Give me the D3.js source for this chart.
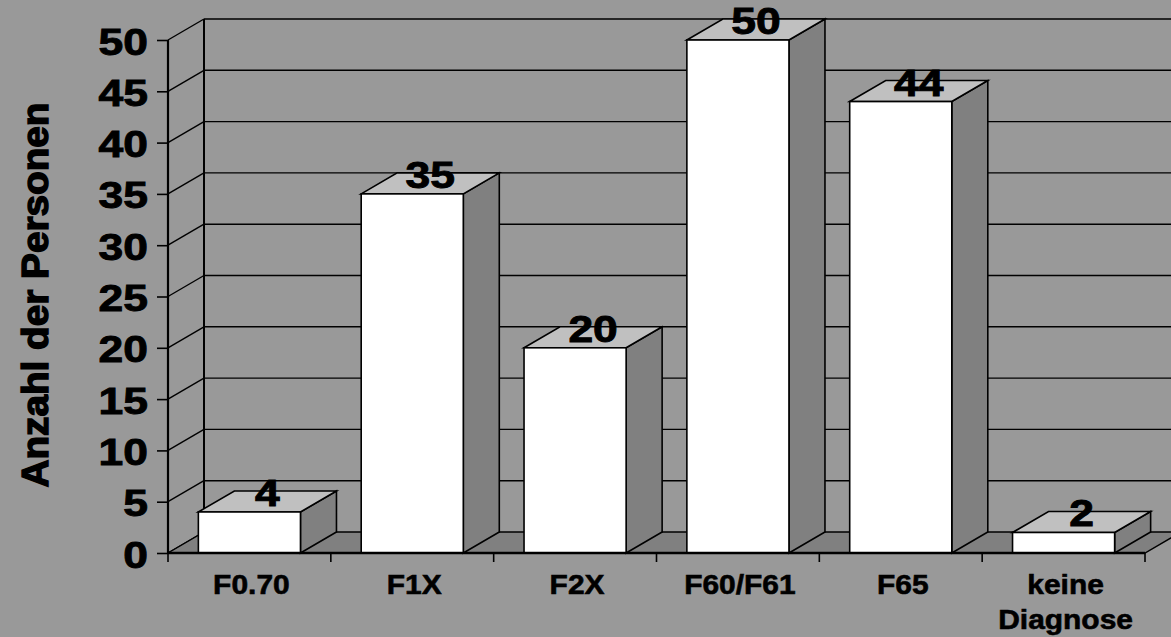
<!DOCTYPE html>
<html>
<head>
<meta charset="utf-8">
<script src="https://cdn.jsdelivr.net/npm/d3@7/dist/d3.min.js"></script>
<style>
  html, body { margin: 0; padding: 0; background: #999999; }
  svg { display: block; }
  text { font-family: "Liberation Sans", Arial, sans-serif; font-weight: bold; fill: #000; stroke: #000; stroke-width: 0.9px; }
</style>
</head>
<body>
<svg id="chart" width="1171" height="637"></svg>
<script>
// Diagnosis groups and number of persons per group
const categories = ["F0.70", "F1X", "F2X", "F60/F61", "F65", "keine Diagnose"];
const values = [4, 35, 20, 50, 44, 2];
const yTicks = [0, 5, 10, 15, 20, 25, 30, 35, 40, 45, 50];
const yTitle = "Anzahl der Personen";

const W = 1171, H = 637;
const svg = d3.select("#chart");

// oblique depth offset of the 3D box
const DX = 36, DY = -21;

const x = d3.scaleBand()
  .domain(categories)
  .range([168, 1145])
  .paddingInner(0.373)
  .paddingOuter(0.1865);

const y = d3.scaleLinear().domain([0, 50]).range([553, 40]);

const x0 = x.range()[0], x1 = x.range()[1];
const y0 = y(0), yTop = y(50);

// background
svg.append("rect").attr("width", W).attr("height", H).attr("fill", "#999999");

// back wall grid lines and left wall diagonals
const grid = svg.append("g").attr("stroke", "#000").attr("stroke-width", 1.4).attr("fill", "none");
grid.selectAll("line.back")
  .data(yTicks.filter(d => d > 0))
  .join("line")
  .attr("class", "back")
  .attr("x1", x0 + DX).attr("x2", x1 + DX)
  .attr("y1", d => y(d) + DY).attr("y2", d => y(d) + DY);
grid.selectAll("line.side")
  .data(yTicks)
  .join("line")
  .attr("class", "side")
  .attr("x1", x0).attr("x2", x0 + DX)
  .attr("y1", d => y(d)).attr("y2", d => y(d) + DY);
// wall corner
grid.append("line")
  .attr("x1", x0 + DX).attr("x2", x0 + DX)
  .attr("y1", yTop + DY).attr("y2", y0 + DY)
  .attr("stroke-width", 2);

// floor
svg.append("path")
  .attr("d", `M${x0},${y0}L${x1},${y0}L${x1 + DX},${y0 + DY}L${x0 + DX},${y0 + DY}Z`)
  .attr("fill", "#808080")
  .attr("stroke", "#000")
  .attr("stroke-width", 1.4);

// bars as oblique boxes
const bars = svg.append("g").attr("stroke", "#000").attr("stroke-width", 1.6).attr("stroke-linejoin", "miter");
categories.forEach((c, i) => {
  const bx = x(c), bw = x.bandwidth();
  const by = y(values[i]);
  const g = bars.append("g");
  // side face
  g.append("path")
    .attr("d", `M${bx + bw},${y0}L${bx + bw + DX},${y0 + DY}L${bx + bw + DX},${by + DY}L${bx + bw},${by}Z`)
    .attr("fill", "#808080");
  // top face
  g.append("path")
    .attr("d", `M${bx},${by}L${bx + DX},${by + DY}L${bx + bw + DX},${by + DY}L${bx + bw},${by}Z`)
    .attr("fill", "#c0c0c0");
  // front face
  g.append("rect")
    .attr("x", bx).attr("y", by)
    .attr("width", bw).attr("height", y0 - by)
    .attr("fill", "#ffffff");
});

// value labels above each bar
svg.append("g").selectAll("text")
  .data(categories)
  .join("text")
  .attr("text-anchor", "middle")
  .attr("font-size", 37)
  .attr("transform", (c, i) => `translate(${x(c) + x.bandwidth() / 2 + DX / 2},${y(values[i]) - 6}) scale(1.2,1)`)
  .text((c, i) => values[i]);

// y axis
const yAxis = svg.append("g")
  .attr("transform", `translate(${x0},0)`)
  .call(d3.axisLeft(y).tickValues(yTicks).tickSize(11).tickSizeOuter(0));
yAxis.select(".domain").attr("stroke", "#000").attr("stroke-width", 2.2).attr("d", `M0,${yTop}V${y0}`);
yAxis.selectAll(".tick line").attr("stroke", "#000").attr("stroke-width", 1.6);
yAxis.selectAll(".tick text")
  .attr("x", null).attr("dy", null)
  .attr("font-size", 37)
  .attr("font-family", null)
  .attr("fill", "#000")
  .attr("text-anchor", "end")
  .attr("transform", "translate(-20,14) scale(1.2,1)");
yAxis.attr("font-family", null).attr("font-size", null);

// x axis line with ticks on the category boundaries
const xAxis = svg.append("g");
xAxis.append("line")
  .attr("x1", x0).attr("x2", x1)
  .attr("y1", y0).attr("y2", y0)
  .attr("stroke", "#000").attr("stroke-width", 2.6);
xAxis.selectAll("line.tick")
  .data(d3.range(categories.length + 1))
  .join("line")
  .attr("class", "tick")
  .attr("x1", i => x0 + i * x.step()).attr("x2", i => x0 + i * x.step())
  .attr("y1", y0).attr("y2", y0 + 9)
  .attr("stroke", "#000").attr("stroke-width", 1.6);

// category labels (may span two lines)
const xl = xAxis.selectAll("text")
  .data(categories)
  .join("text")
  .attr("text-anchor", "middle")
  .attr("font-size", 28)
  .style("stroke-width", "0.6px")
  .attr("transform", c => `translate(${x(c) + x.bandwidth() / 2 + 2},594) scale(1.07,1)`);
xl.selectAll("tspan")
  .data(c => c.split(" "))
  .join("tspan")
  .attr("x", 0)
  .attr("y", (d, j) => j * 35)
  .text(d => d);

// y axis title
svg.append("text")
  .attr("text-anchor", "middle")
  .attr("font-size", 36)
  .attr("textLength", 385)
  .attr("lengthAdjust", "spacingAndGlyphs")
  .style("stroke-width", "1.4px")
  .attr("transform", "translate(48,295) rotate(-90)")
  .text(yTitle);
</script>
</body>
</html>
